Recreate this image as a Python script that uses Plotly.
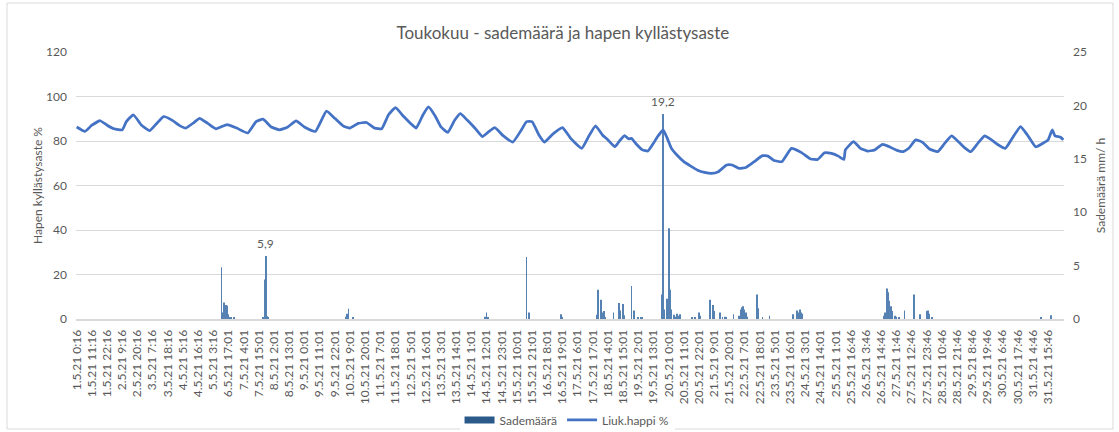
import plotly.graph_objects as go

# ---------------- data ----------------
N_POINTS = 716  # hourly measurement categories on the x axis

tick_labels = [
    "1.5.21 0:16", "1.5.21 11:16", "1.5.21 22:16", "2.5.21 9:16", "2.5.21 20:16",
    "3.5.21 7:16", "3.5.21 18:16", "4.5.21 5:16", "4.5.21 16:16", "5.5.21 3:16",
    "6.5.21 17:01", "7.5.21 4:01", "7.5.21 15:01", "8.5.21 2:01", "8.5.21 13:01",
    "9.5.21 0:01", "9.5.21 11:01", "9.5.21 22:01", "10.5.21 9:01", "10.5.21 20:01",
    "11.5.21 7:01", "11.5.21 18:01", "12.5.21 5:01", "12.5.21 16:01", "13.5.21 3:01",
    "13.5.21 14:01", "14.5.21 1:01", "14.5.21 12:01", "14.5.21 23:01", "15.5.21 10:01",
    "15.5.21 21:01", "16.5.21 8:01", "16.5.21 19:01", "17.5.21 6:01", "17.5.21 17:01",
    "18.5.21 4:01", "18.5.21 15:01", "19.5.21 2:01", "19.5.21 13:01", "20.5.21 0:01",
    "20.5.21 11:01", "20.5.21 22:01", "21.5.21 9:01", "21.5.21 20:01", "22.5.21 7:01",
    "22.5.21 18:01", "23.5.21 5:01", "23.5.21 16:01", "24.5.21 3:01", "24.5.21 14:01",
    "25.5.21 1:01", "25.5.21 16:46", "26.5.21 3:46", "26.5.21 14:46", "27.5.21 1:46",
    "27.5.21 12:46", "27.5.21 23:46", "28.5.21 10:46", "28.5.21 21:46", "29.5.21 8:46",
    "29.5.21 19:46", "30.5.21 6:46", "30.5.21 17:46", "31.5.21 4:46", "31.5.21 15:46",
]
tick_positions = [0, 11, 22, 33, 44, 55, 66, 77, 88, 99, 110, 121, 132, 143, 154,
                  165, 176, 187, 198, 209, 220, 231, 242, 253, 264, 275, 286, 297,
                  308, 319, 330, 341, 352, 363, 374, 385, 396, 407, 418, 429, 440,
                  451, 462, 473, 484, 495, 506, 517, 528, 539, 550, 561, 572, 583,
                  594, 605, 616, 627, 638, 649, 660, 671, 682, 693, 704]

# Dissolved oxygen saturation (%) read at category positions
o2_idx = [0, 6, 11, 17, 22, 27, 33, 36, 41, 47, 53, 58, 63, 69, 75, 79, 85, 89, 95,
          101, 109, 116, 124, 130, 135, 141, 147, 153, 159, 165, 173, 181, 187, 193,
          198, 204, 210, 216, 221, 226, 231, 237, 242, 246, 251, 255, 260, 264, 269,
          274, 278, 283, 289, 294, 298, 303, 309, 316, 322, 326, 330, 335, 339, 345,
          352, 358, 366, 371, 376, 381, 385, 390, 393, 397, 400, 402, 405, 410, 414,
          418, 421, 425, 428, 431, 435, 440, 445, 450, 455, 460, 465, 471, 475, 480,
          485, 491, 497, 501, 505, 511, 518, 525, 532, 537, 542, 547, 552, 556, 557,
          563, 568, 573, 578, 584, 589, 594, 599, 603, 608, 613, 618, 624, 629, 634,
          639, 644, 648, 653, 658, 663, 668, 673, 678, 684, 689, 695, 700, 704, 707,
          709, 713, 715]
o2_val = [86.3, 84.3, 87.1, 89.1, 87.1, 85.5, 85.0, 88.7, 91.8, 87.1, 84.7, 87.9,
          91.0, 89.4, 86.8, 85.8, 88.3, 90.2, 87.9, 85.5, 87.4, 85.8, 83.6, 88.7,
          89.8, 86.3, 85.0, 86.3, 89.0, 86.3, 84.3, 93.4, 90.2, 86.8, 85.8, 87.9,
          88.3, 85.8, 85.5, 91.8, 95.0, 91.0, 87.9, 85.8, 91.8, 95.3, 91.0, 86.3,
          83.9, 89.4, 92.3, 89.4, 85.5, 82.0, 83.9, 86.0, 82.4, 79.5, 84.7, 88.7,
          88.7, 82.7, 79.5, 83.1, 86.0, 81.2, 76.7, 82.0, 86.8, 82.7, 80.5, 77.4,
          79.7, 82.4, 81.0, 81.2, 79.0, 76.0, 75.5, 79.0, 82.0, 85.0, 81.2, 76.7,
          73.7, 70.7, 68.7, 66.9, 65.9, 65.4, 66.2, 69.2, 69.2, 67.7, 68.1, 70.7,
          73.4, 73.2, 71.4, 70.7, 76.7, 74.9, 71.9, 71.7, 74.7, 74.4, 73.2, 71.7,
          75.9, 79.7, 76.7, 75.5, 75.9, 78.5, 77.4, 75.9, 75.2, 76.7, 80.5, 79.4,
          76.4, 75.2, 78.9, 82.3, 79.7, 76.7, 75.2, 78.9, 82.3, 80.5, 78.2, 76.7,
          81.2, 86.5, 82.7, 77.4, 78.9, 80.5, 85.0, 82.3, 81.7, 80.5]

# Rainfall (mm/h) at category positions (all other hours are 0)
rain_idx = [105, 106, 107, 108, 109, 110, 111, 112, 114, 135, 136, 137, 138, 139,
            195, 196, 197, 200, 296, 297, 298, 326, 328, 351, 352, 377, 378, 380,
            381, 382, 383, 389, 393, 394, 396, 397, 402, 404, 407, 409, 410, 424,
            425, 426, 428, 429, 430, 431, 433, 434, 435, 436, 437, 446, 448, 451,
            452, 459, 461, 462, 466, 468, 470, 471, 476, 480, 481, 482, 483, 484,
            485, 486, 493, 494, 497, 502, 519, 522, 523, 524, 525, 526, 585, 586,
            587, 588, 589, 590, 591, 593, 594, 596, 600, 607, 611, 616, 617, 618,
            620, 699, 706]
rain_val = [4.85, 0.6, 1.55, 1.3, 1.25, 0.45, 0.15, 0.1, 0.1, 0.1, 3.7, 5.9, 0.25,
            0.15, 0.2, 0.5, 0.95, 0.15, 0.2, 0.6, 0.1, 5.8, 0.6, 0.45, 0.15, 0.4,
            2.75, 1.8, 0.6, 0.75, 0.15, 0.6, 1.5, 0.8, 1.4, 0.35, 3.1, 0.8, 0.1,
            0.1, 0.1, 2.3, 19.2, 0.9, 1.9, 8.5, 2.75, 0.9, 0.4, 0.2, 0.5, 0.3,
            0.45, 0.1, 0.1, 0.6, 0.3, 1.8, 1.3, 0.75, 0.6, 0.15, 0.2, 0.1, 0.45,
            0.3, 0.9, 1.1, 1.2, 0.9, 0.6, 0.2, 2.3, 1.0, 0.1, 0.3, 0.45, 0.8, 0.6,
            0.9, 0.6, 0.5, 0.3, 0.6, 2.85, 2.5, 1.7, 1.2, 0.75, 0.3, 0.2, 0.15,
            0.8, 2.3, 0.45, 0.75, 0.8, 0.5, 0.1, 0.15, 0.35]

labelled_bars = [137, 425]  # bars carrying a data label

# ---------------- figure ----------------
FONT = "Lato, 'Liberation Sans', sans-serif"
GREY = "#595959"
BAR_DARK = "#2B5A8A"

fig = go.Figure()
fig.add_trace(go.Bar(
    x=rain_idx, y=rain_val, name="Sademäärä", showlegend=False,
    marker=dict(color="#5682B3", line=dict(width=0)),
    yaxis="y", hoverinfo="skip",
))
# legend entry for the bars (wide rectangular swatch, as in the original)
fig.add_trace(go.Scatter(
    x=[None], y=[None], name="Sademäärä", mode="lines",
    line=dict(color=BAR_DARK, width=7), yaxis="y",
))
fig.add_trace(go.Scatter(
    x=o2_idx, y=o2_val, name="Liuk.happi %", mode="lines",
    line=dict(color="#4472C4", width=2.75, shape="spline", smoothing=0.4),
    yaxis="y2",
))

for i in labelled_bars:
    v = rain_val[rain_idx.index(i)]
    fig.add_annotation(
        x=i, y=v, xref="x", yref="y", text=f"{v:.1f}".replace(".", ","),
        showarrow=False, yanchor="bottom", yshift=3,
        font=dict(family=FONT, size=12, color=GREY),
    )

fig.update_layout(
    width=1119, height=432,
    margin=dict(l=76, r=55, t=52, b=113, autoexpand=False),
    paper_bgcolor="white", plot_bgcolor="white",
    font=dict(family=FONT, size=12, color=GREY),
    title=dict(text="Toukokuu - sademäärä ja hapen kyllästysaste",
               x=0.503, xanchor="center", y=1 - 33 / 432, yanchor="middle",
               font=dict(family=FONT, size=17, color=GREY)),
    bargap=0.5,
    showlegend=True,
    legend=dict(orientation="h", x=0.497, xanchor="center", y=-0.378,
                yanchor="middle", font=dict(family=FONT, size=12, color=GREY),
                traceorder="normal", itemwidth=30),
    xaxis=dict(
        range=[-0.5, N_POINTS - 0.5], tickmode="array",
        tickvals=tick_positions, ticktext=tick_labels, tickangle=-90,
        showgrid=False, zeroline=False, showline=True, linecolor="#D9D9D9",
        linewidth=2, ticks="", automargin=False, ticklabelstandoff=4,
        tickfont=dict(family=FONT, size=12, color=GREY),
    ),
    yaxis=dict(
        side="right", range=[0, 25], dtick=5, showgrid=False, zeroline=False,
        automargin=False, ticklabelstandoff=8,
        title=dict(text="Sademäärä mm/ h", standoff=10,
                   font=dict(family=FONT, size=12, color=GREY)),
        tickfont=dict(family=FONT, size=12, color=GREY), ticklen=0,
    ),
    yaxis2=dict(
        side="left", overlaying="y", range=[0, 120], dtick=20,
        showgrid=True, gridcolor="#D9D9D9", gridwidth=1, zeroline=False,
        automargin=False, ticklabelstandoff=8,
        title=dict(text="Hapen kyllästysaste %", standoff=0,
                   font=dict(family=FONT, size=12, color=GREY)),
        tickfont=dict(family=FONT, size=12, color=GREY),
    ),
)

# outer chart border
fig.add_shape(type="rect", xref="paper", yref="paper",
              x0=(7 - 76) / 988, x1=(1113 - 76) / 988,
              y0=(319 - 429) / 267, y1=(319 - 3) / 267,
              line=dict(color="#D9D9D9", width=1), layer="below")

fig.write_html("out.html", config={"displayModeBar": False},
               post_script="document.body.style.margin='0';")
